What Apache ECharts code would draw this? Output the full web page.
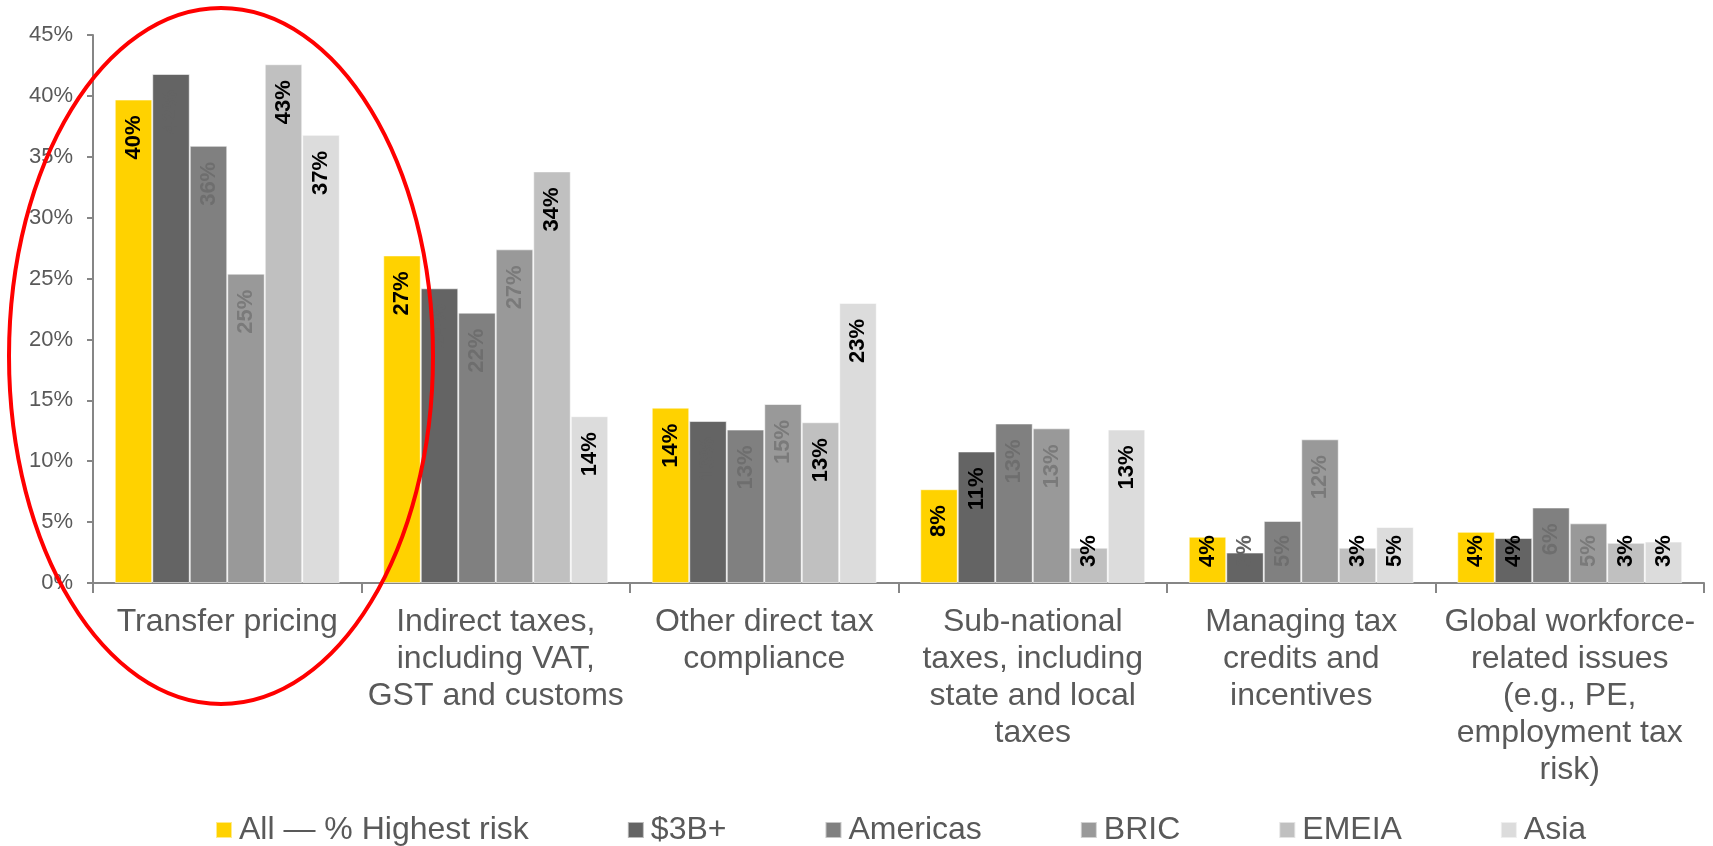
<!DOCTYPE html>
<html>
<head>
<meta charset="utf-8">
<script src="https://cdn.jsdelivr.net/npm/echarts@6/dist/echarts.min.js"></script>
<style>
html,body{margin:0;padding:0;background:#fff;}
#chart{width:1713px;height:846px;}
</style>
</head>
<body>
<div id="chart"></div>
<script>
// ---- data ----
const categories = [
  'Transfer pricing',
  'Indirect taxes,\nincluding VAT,\nGST and customs',
  'Other direct tax\ncompliance',
  'Sub-national\ntaxes, including\nstate and local\ntaxes',
  'Managing tax\ncredits and\nincentives',
  'Global workforce-\nrelated issues\n(e.g., PE,\nemployment tax\nrisk)'
];
const seriesNames = ['All — % Highest risk', '$3B+', 'Americas', 'BRIC', 'EMEIA', 'Asia'];
const allHighest = [39.7, 26.9, 14.4, 7.7, 3.8, 4.2];
const big3B      = [41.8, 24.2, 13.3, 10.8, 2.5, 3.7];
const americas   = [35.9, 22.2, 12.6, 13.1, 5.1, 6.2];
const bric       = [25.4, 27.4, 14.7, 12.7, 11.8, 4.9];
const emeia      = [42.6, 33.8, 13.2, 2.9, 2.9, 3.3];
const asia       = [36.8, 13.7, 23.0, 12.6, 4.6, 3.4];
const yMin = 0, yMax = 45, yStep = 5;

// ---- styles ----
const barColors = ['#FFD200', '#646464', '#808080', '#999999', '#C0C0C0', '#DCDCDC'];
const labelColors = ['#000000', null, '#6e6e6e', '#7a7a7a', '#000000', '#000000'];
const big3BLabelColors = ['#646464', '#646464', '#646464', '#000000', '#646464', '#000000'];
const FONT = "'Liberation Sans', Arial, Helvetica, sans-serif";
const smallThreshold = 5.2;

const values = [allHighest, big3B, americas, bric, emeia, asia];

function makeLabel(v, color) {
  const base = {
    show: true, rotate: 90, distance: 16, verticalAlign: 'middle',
    color: color, fontFamily: FONT, fontSize: 22, fontWeight: 'bold',
    formatter: function (p) { return Math.round(p.value) + '%'; }
  };
  if (v < smallThreshold) {
    base.position = 'insideBottom'; base.align = 'left';
  } else {
    base.position = 'insideTop'; base.align = 'right';
  }
  return base;
}

const series = seriesNames.map(function (name, si) {
  return {
    name: name,
    type: 'bar',
    barWidth: 37.5,
    barGap: '0%',
    itemStyle: { color: barColors[si], borderColor: 'rgba(255,255,255,0.55)', borderWidth: 1 },
    emphasis: { disabled: true },
    data: values[si].map(function (v, ci) {
      const c = si === 1 ? big3BLabelColors[ci] : labelColors[si];
      return { value: v, label: makeLabel(v, c) };
    })
  };
});

const chart = echarts.init(document.getElementById('chart'), null, { renderer: 'canvas' });
chart.setOption({
  animation: false,
  backgroundColor: '#ffffff',
  textStyle: { fontFamily: FONT },
  grid: { left: 93, right: 9, top: 35, bottom: 263, containLabel: false },
  legend: {
    left: 210, top: 809,
    itemWidth: 16, itemHeight: 16, itemGap: 98,
    icon: 'rect',
    textStyle: { fontFamily: FONT, fontSize: 32, color: '#595959', padding: [0, 0, 0, 2] },
    data: seriesNames
  },
  xAxis: {
    type: 'category',
    data: categories,
    axisLine: { lineStyle: { color: '#868686', width: 2 } },
    axisTick: { show: true, length: 10, lineStyle: { color: '#868686', width: 2 } },
    axisLabel: { interval: 0, margin: 21, fontFamily: FONT, fontSize: 32, lineHeight: 37, color: '#595959', align: 'center' },
    splitLine: { show: false }
  },
  yAxis: {
    type: 'value',
    min: yMin, max: yMax, interval: yStep,
    axisLine: { show: true, lineStyle: { color: '#868686', width: 2 } },
    axisTick: { show: true, length: 6, lineStyle: { color: '#868686', width: 2 } },
    axisLabel: { formatter: '{value}%', margin: 20, fontFamily: FONT, fontSize: 22, color: '#595959' },
    splitLine: { show: false }
  },
  series: series,
  graphic: [{
    type: 'ellipse',
    shape: { cx: 221, cy: 356, rx: 212, ry: 348 },
    style: { fill: 'none', stroke: '#FF0000', lineWidth: 4 },
    z: 100, silent: true
  }]
});
</script>
</body>
</html>
